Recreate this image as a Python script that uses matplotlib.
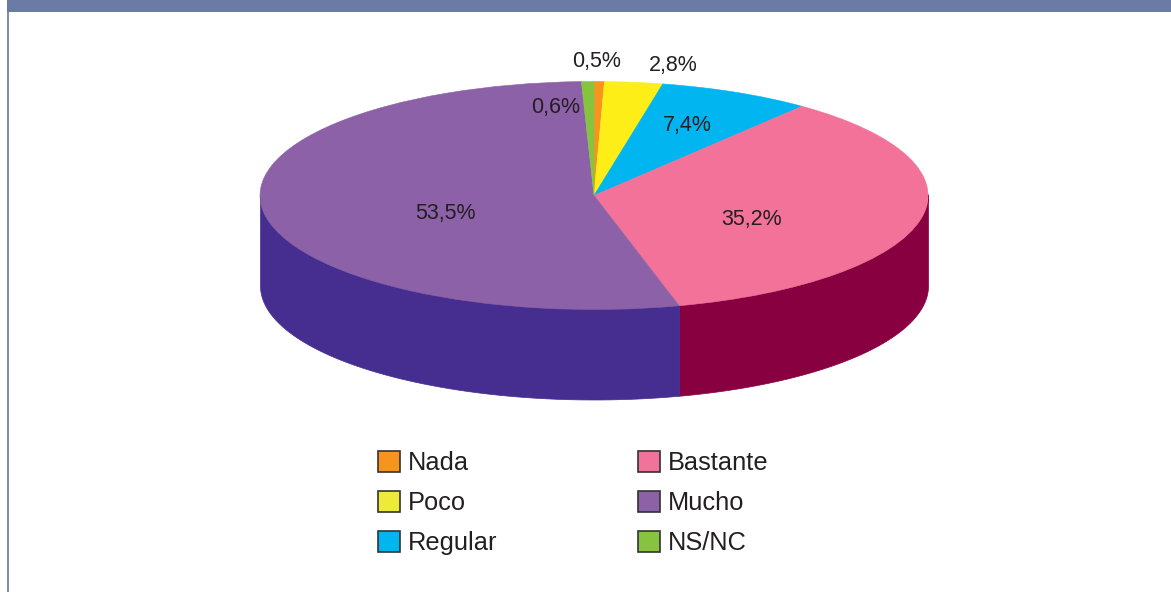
import matplotlib
matplotlib.use("Agg")
import matplotlib.pyplot as plt
import numpy as np
from matplotlib.patches import Patch, Rectangle

plt.rcParams["font.family"] = ["Liberation Sans", "DejaVu Sans"]

# data
categories = ["Nada", "Poco", "Regular", "Bastante", "Mucho", "NS/NC"]
values = [0.5, 2.8, 7.4, 35.2, 53.5, 0.6]
labels = ["0,5%", "2,8%", "7,4%", "35,2%", "53,5%", "0,6%"]
top_colors = ["#f7941e", "#fcee16", "#00b5f0", "#f27299", "#8c61a8", "#86c440"]
legend_colors = ["#f7941e", "#eeea3a", "#00b5f0", "#f27299", "#8c61a8", "#86c440"]
side_colors = {"Bastante": "#880040", "Mucho": "#452e8f"}

W, H = 1171, 592
fig = plt.figure(figsize=(W / 100, H / 100), dpi=100)

# page frame
bg = fig.add_axes([0, 0, 1, 1])
bg.set_xlim(0, W)
bg.set_ylim(H, 0)
bg.axis("off")
bg.add_patch(Rectangle((7, 0), W - 7, 12, color="#6a7ca6", lw=0))
bg.add_patch(Rectangle((7, 12), 1.6, H - 12, color="#7d8db0", lw=0))

# pie geometry in pixels
cx, cy, rx, ry, depth = 594, 195.5, 334, 114, 90
ax = fig.add_axes([(cx - rx) / W, 1 - (cy + ry + depth) / H, 2 * rx / W, (2 * ry + depth) / H])

wedges, _ = ax.pie(values, colors=top_colors, startangle=90, counterclock=False,
                   wedgeprops={"linewidth": 0.4})
ax.set_aspect("auto")
ax.set_xlim(-1, 1)
ax.set_ylim(-1 - depth / ry, 1)
ax.set_zorder(2)
for w in wedges:
    w.set_zorder(3)
    w.set_edgecolor(w.get_facecolor())

# side wall of the front half (clockwise pie, so angles run below zero)
d = depth / ry
for name, w in zip(categories, wedges):
    if name not in side_colors:
        continue
    a1 = max(w.theta1, -180)
    a2 = min(w.theta2, 0)
    t = np.radians(np.linspace(a1, a2, 200))
    # top edge goes a little under the top face so no white seam shows
    ax.fill_between(np.cos(t), np.sin(t) + 0.01, np.sin(t) - d, color=side_colors[name],
                    lw=0.5, zorder=1)

# percent labels
label_pos = [(597, 62), (673, 66), (687, 126), (752, 220), (445, 214), (556, 107)]
for txt, (x, y) in zip(labels, label_pos):
    bg.text(x, y, txt, fontsize=15.5, color="#231f20", ha="center", va="center", zorder=10)
bg.set_zorder(3)
bg.patch.set_alpha(0)

# legend
handles = [Patch(facecolor=c, edgecolor="#333333", linewidth=1.2) for c in legend_colors]
fig.legend(handles, categories, ncol=2, frameon=False, fontsize=18.3,
           loc="upper left", bbox_to_anchor=(358 / W, 1 - 431 / H),
           handlelength=0.87, handleheight=0.87, handletextpad=0.3,
           columnspacing=5.52, labelspacing=0.62, borderpad=0.3,
           labelcolor="#231f20")

fig.savefig("out.png", dpi=100)
